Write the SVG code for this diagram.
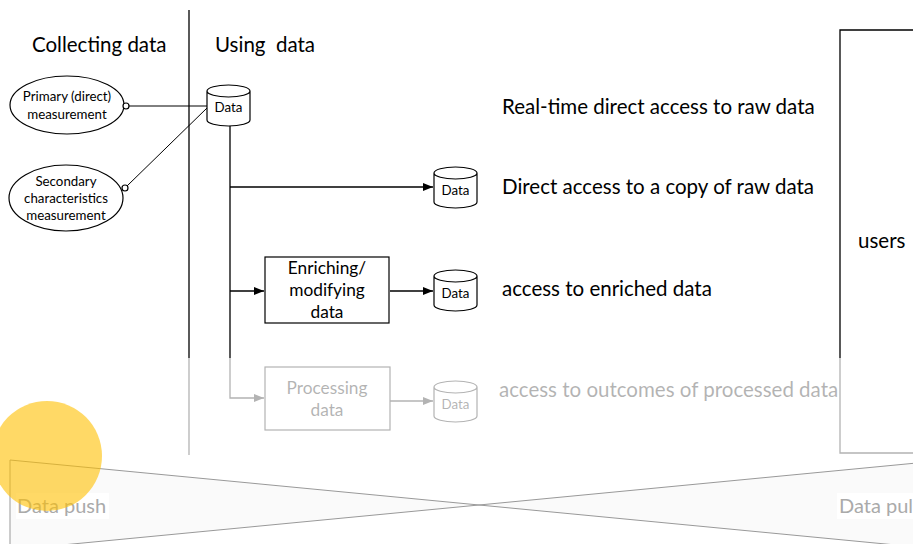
<svg xmlns="http://www.w3.org/2000/svg" width="913" height="544" viewBox="0 0 913 544">
<defs>
<marker id="arr" markerWidth="10" markerHeight="8" refX="10" refY="4" orient="auto" markerUnits="userSpaceOnUse">
<path d="M0,0 L10,4 L0,8 z" fill="#000"/>
</marker>
<style>
text{font-family:Lato,"Open Sans","Liberation Sans",sans-serif;fill:#000}
.big{font-size:20.5px}
.mid{font-size:17.3px;text-anchor:middle}
.sm{font-size:13.3px;text-anchor:middle}
.ln{stroke:#000;stroke-width:1.3;fill:none}
.thin{stroke:#000;stroke-width:1;fill:none}
.shape{stroke:#000;stroke-width:1.2;fill:#fff}
</style>
</defs>
<rect width="913" height="544" fill="#fff"/>
<line x1="189" y1="10" x2="189" y2="455" class="ln"/>
<text class="big" x="32" y="52">Collecting data</text>
<text class="big" x="215" y="52" xml:space="preserve">Using  data</text>
<g id="primary">
<ellipse cx="67" cy="105" rx="57" ry="29" class="shape"/>
<text class="sm" x="67" y="101">Primary (direct)</text>
<text class="sm" x="67" y="119">measurement</text>
</g>
<g id="secondary">
<ellipse cx="66" cy="198" rx="57" ry="33" class="shape"/>
<text class="sm" x="66" y="186">Secondary</text>
<text class="sm" x="66" y="203">characteristics</text>
<text class="sm" x="66" y="220">measurement</text>
</g>
<g id="connectors">
<line x1="129" y1="106" x2="207" y2="106" class="thin"/>
<line x1="127" y1="186" x2="207" y2="108" class="thin"/>
<circle cx="126" cy="106" r="3" class="shape" stroke-width="1"/>
<circle cx="125" cy="188" r="3" class="shape" stroke-width="1"/>
<polyline points="230,126 230,398 264,398" class="ln" marker-end="url(#arr)"/>
<line x1="230" y1="187" x2="433" y2="187" class="ln" marker-end="url(#arr)"/>
<line x1="230" y1="291" x2="264" y2="291" class="ln" marker-end="url(#arr)"/>
<line x1="390" y1="291" x2="433" y2="291" class="ln" marker-end="url(#arr)"/>
<line x1="390" y1="401" x2="433" y2="401" class="ln" marker-end="url(#arr)"/>
</g>
<g id="data-main">
<path d="M207,91 a21.5,6 0 0,1 43,0 v29 a21.5,6 0 0,1 -43,0 z M207,91 a21.5,6 0 0,0 43,0" class="shape"/>
<text class="sm" x="228.5" y="112">Data</text>
</g>
<g id="data-copy">
<path d="M434,173 a21.5,6 0 0,1 43,0 v29 a21.5,6 0 0,1 -43,0 z M434,173 a21.5,6 0 0,0 43,0" class="shape"/>
<text class="sm" x="455.5" y="195">Data</text>
</g>
<g id="enriching">
<rect x="265" y="257" width="124" height="66" class="shape"/>
<text class="mid" x="327" y="274">Enriching/</text>
<text class="mid" x="327" y="296">modifying</text>
<text class="mid" x="327" y="318">data</text>
</g>
<g id="data-enriched">
<path d="M434,276 a21.5,6 0 0,1 43,0 v29 a21.5,6 0 0,1 -43,0 z M434,276 a21.5,6 0 0,0 43,0" class="shape"/>
<text class="sm" x="455.5" y="298">Data</text>
</g>
<g id="processing">
<rect x="265" y="367" width="125" height="63" class="shape"/>
<text class="mid" x="327" y="394">Processing</text>
<text class="mid" x="327" y="416">data</text>
</g>
<g id="data-processed">
<path d="M434,387 a21.5,6 0 0,1 43,0 v29 a21.5,6 0 0,1 -43,0 z M434,387 a21.5,6 0 0,0 43,0" class="shape"/>
<text class="sm" x="455.5" y="409">Data</text>
</g>
<text class="big" x="502" y="114">Real-time direct access to raw data</text>
<text class="big" x="502" y="194">Direct access to a copy of raw data</text>
<text class="big" x="502" y="296">access to enriched data</text>
<text class="big" x="499" y="397">access to outcomes of processed data</text>
<g id="users">
<polyline points="920,30 840,30 840,453 920,453" class="ln"/>
<text class="big" x="858" y="248">users</text>
</g>
<rect x="0" y="358" width="913" height="186" fill="#fff" opacity="0.7"/>
<g id="push-pull">
<path d="M10,460 L948,550 L948,460 L10,550 Z" fill="#fafafa" stroke="#999" stroke-width="1"/>
<rect x="16" y="493" width="93" height="26" fill="#fff"/>
<text x="17" y="513" style="font-size:20px;fill:#aaa">Data push</text>
<rect x="837" y="493" width="80" height="26" fill="#fff"/>
<text x="839" y="513" style="font-size:20px;fill:#aaa">Data pull</text>
</g>
<circle cx="47" cy="456" r="55" fill="#FFC000" opacity="0.6"/>
</svg>
